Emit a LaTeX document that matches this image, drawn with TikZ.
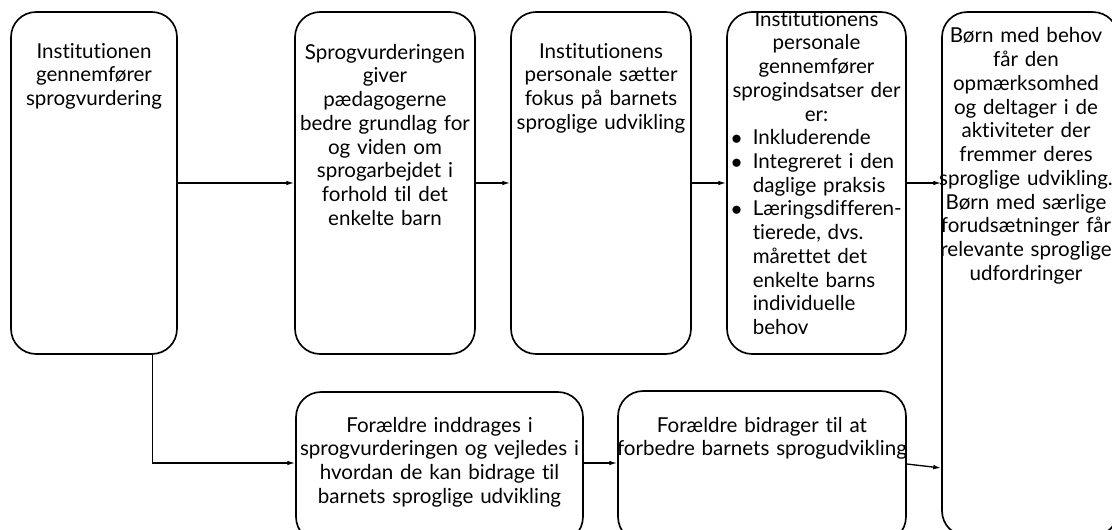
\documentclass[tikz,border=0pt]{standalone}
\usepackage{fontspec}
\setmainfont{Lato}[Ligatures={NoCommon}]
\usepackage{tikz}
\usetikzlibrary{arrows.meta}
\usetikzlibrary{calc}

\begin{document}
\begin{tikzpicture}[x=0.02cm,y=-0.02cm,
  box/.style={draw,line width=0.95pt,rounded corners=0.5cm,inner sep=0pt},
  txt/.style={anchor=base,inner sep=0pt,align=center,text width=6cm,font=\fontsize{11.7}{13.5}\selectfont},
  arr/.style={line width=0.75pt,-{Latex[length=4.5pt,width=2.6pt]}}]
\clip (0,0) rectangle (1112,530);
% top row
\node (b1) [box,minimum width=3.32cm,minimum height=6.84cm] at (94,183) {};
\node (b2) [box,minimum width=3.6cm,minimum height=6.84cm] at (385,183) {};
\node (b3) [box,minimum width=3.6cm,minimum height=6.84cm] at (601,183) {};
\node (b4) [box,minimum width=3.58cm,minimum height=6.84cm] at (816.5,183) {};
\node (b5) [box,minimum width=3.52cm,minimum height=10.48cm] at (1030,274) {};
% bottom row
\node (b6) [box,minimum width=5.74cm,minimum height=3cm] at (439.5,467) {};
\node (b7) [box,minimum width=5.76cm,minimum height=3.02cm] at (762,466.5) {};
% texts
\node (t1) [txt] at ($(b1.north)+(0,47)$) {Institutionen\\gennemfører\\sprogvurdering};
\node (t2) [txt] at ($(b2.north)+(0,48)$) {Sprogvurderingen\\giver\\pædagogerne\\bedre grundlag for\\og viden om\\sprogarbejdet i\\forhold til det\\enkelte barn};
\node (t3) [txt] at ($(b3.north)+(0,47)$) {Institutionens\\personale sætter\\fokus på barnets\\sproglige udvikling};
\node (t4) [txt] at ($(b4.north)+(0,15)$) {Institutionens\\personale\\gennemfører\\sprogindsatser der\\er:\\
  \begin{tabular}[t]{@{}l@{\hspace{0.22cm}}l@{}}
  $\bullet$ & Inkluderende\\
  $\bullet$ & Integreret i den\\
            & daglige praksis\\
  $\bullet$ & Læringsdifferen-\\
            & tierede, dvs.\\
            & mårettet det\\
            & enkelte barns\\
            & individuelle\\
            & behov
  \end{tabular}};
\node (t5) [txt] at (1026,43) {Børn med behov\\får den\\opmærksomhed\\og deltager i de\\aktiviteter der\\fremmer deres\\sproglige udvikling.\\Børn med særlige\\forudsætninger får\\relevante sproglige\\udfordringer};
\node (t6) [txt] at ($(b6.north)+(0,41)$) {Forældre inddrages i\\sprogvurderingen og vejledes i\\hvordan de kan bidrage til\\barnets sproglige udvikling};
\node (t7) [txt] at ($(b7.north)+(0,42)$) {Forældre bidrager til at\\forbedre barnets sprogudvikling};
% arrows
\draw[arr] (b1.east) -- (b2.west);
\draw[arr] (b2.east) -- (b3.west);
\draw[arr] (b3.east) -- (b4.west);
\draw[arr] (b4.east) -- (b4.east -| b5.west);
\draw[arr] ([xshift=-0.5cm]b1.south east) |- ([yshift=0.08cm]b6.west);
\draw[arr] ([yshift=0.08cm]b6.east) -- ([yshift=0.08cm]b6.east -| b7.west);
\draw[arr] ([yshift=0.05cm]b7.east) -- ($(b7.east -| b5.west)+(0,1.5)$);
\end{tikzpicture}
\end{document}
